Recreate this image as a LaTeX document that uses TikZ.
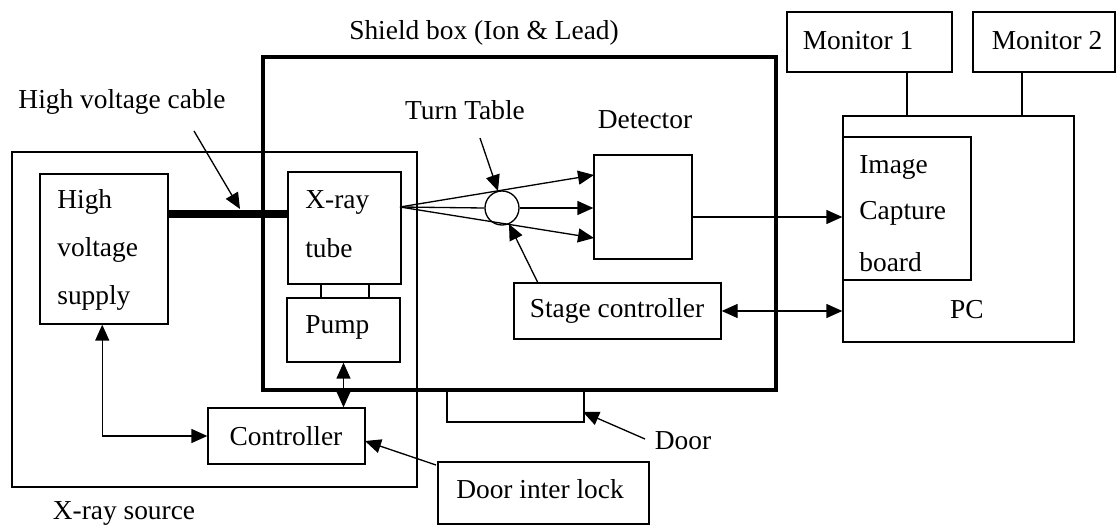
\documentclass[tikz,border=0pt]{standalone}
\usepackage{fontspec}
\setmainfont{Liberation Serif}
\usetikzlibrary{arrows.meta,fit}
\begin{document}
\begin{tikzpicture}[x=0.02cm,y=-0.02cm,
  every node/.style={font=\fontsize{15.6}{18}\selectfont},
  box/.style={draw,line width=0.75pt,inner sep=0pt,rectangle},
  thinline/.style={line width=0.75pt},
  tip/.tip={Triangle[length=3.2mm,width=2.8mm]},
  arr/.style={line width=0.75pt,-tip},
  darr/.style={line width=0.75pt,tip-tip},
  txt/.style={inner sep=0pt,anchor=west},
  ctxt/.style={inner sep=0pt}]
\useasboundingbox (0,0) rectangle (1117,527);
% boxes
\node[box,fit={(12,152) (417,487)}] (src) {};
\node[box,line width=2.5pt,fit={(263,57) (776,390)}] (shield) {};
\node[box,fit={(40,174) (168,324)}] (hv) {};
\node[box,fit={(288,172) (401,284)}] (tube) {};
\node[box,fit={(321,284) (369,298)}] (neck) {};
\node[box,fit={(287,298) (400,362)}] (pump) {};
\node[box,fit={(208,408) (365,464)}] (ctrl) {};
\node[box,fit={(438,462) (649,524)}] (lock) {};
\node[box,fit={(447,390) (584,422)}] (door) {};
\node[box,fit={(594,155) (692,259)}] (det) {};
\node[box,fit={(514,283) (721,339)}] (stage) {};
\node[box,fit={(843,116) (1074,342)}] (pc) {};
\node[box,fit={(843,137) (971,280)}] (icb) {};
\node[box,fit={(787,12) (952,72)}] (mon1) {};
\node[box,fit={(973,12) (1115,72)}] (mon2) {};
\node[draw,circle,line width=0.75pt,minimum size=0.68cm,inner sep=0pt] (tt) at (502,208) {};
% texts
\node[ctxt] (tshield) at (484,33) {Shield box (Ion \& Lead)};
\node[ctxt] (tcable) at (122,102) {High voltage cable};
\node[ctxt] (tturn) at (465,110) {Turn Table};
\node[ctxt] (tdet) at (645,120) {Detector};
\node[ctxt] (tsrc) at (124,513) {X-ray source};
\node[ctxt] (tdoor) at (683,441) {Door};
\node[ctxt] (tpc) at (967,310) {PC};
\node[ctxt] (tstage) at (617,311) {Stage controller};
\node[ctxt] (tctrl) at (286,436) {Controller};
\node[ctxt] (tlock) at (540,489) {Door inter lock};
\node[ctxt] (tmon1) at (858,41) {Monitor 1};
\node[ctxt] (tmon2) at (1047,41) {Monitor 2};
\node[txt] (tpump) at (305,327) {Pump};
\node[txt] (txray) at (305,202) {X-ray};
\node[txt] (ttube) at (305,248) {tube};
\node[txt] (thv1) at (57,202) {High};
\node[txt] (thv2) at (57,250) {voltage};
\node[txt] (thv3) at (57,298) {supply};
\node[txt] (ticb1) at (859,167) {Image};
\node[txt] (ticb2) at (859,213) {Capture};
\node[txt] (ticb3) at (859,262) {board};
% helper coordinates
\coordinate (cabley) at (0,214);
\coordinate (xs) at (400,207);
\coordinate (d1) at (594,175);
\coordinate (d3) at (594,238);
\coordinate (ca0) at (194,131);
\coordinate (ca1) at (240,209);
\coordinate (tt0) at (480,138);
\coordinate (tt1) at (498,191);
\coordinate (st0) at (538,283);
\coordinate (st1) at (509,224);
\coordinate (dy) at (0,217);
\coordinate (do0) at (645,439);
\coordinate (do1) at (583,412);
\coordinate (lk0) at (436,465);
\coordinate (lk1) at (365,441);
\coordinate (m1a) at (907,72);
\coordinate (m1b) at (907,116);
\coordinate (m2a) at (1022,72);
\coordinate (m2b) at (1022,116);
% connectors
\draw[line width=5pt] (hv.east |- cabley) -- (tube.west |- cabley);
\draw[arr] (ca0) -- (ca1);
\draw[arr] (xs) -- (d1);
\draw[arr] (xs) -- (d3);
\draw[thinline] (xs) -- (tt.west);
\draw[arr] (tt.east) -- (det.west |- tt.east);
\draw[arr] (tt0) -- (tt1);
\draw[arr] (st0) -- (st1);
\draw[arr] (det.east |- dy) -- (icb.west |- dy);
\draw[darr] (stage.east) -- (pc.west |- stage.east);
\draw[thinline] (m1a) -- (m1b);
\draw[thinline] (m2a) -- (m2b);
\draw[darr] (pump.south) -- (pump.south |- ctrl.north);
\draw[darr] ([xshift=-1]hv.south) |- (ctrl.west);
\draw[arr] (lk0) -- (lk1);
\draw[arr] (do0) -- (do1);
\end{tikzpicture}
\end{document}
